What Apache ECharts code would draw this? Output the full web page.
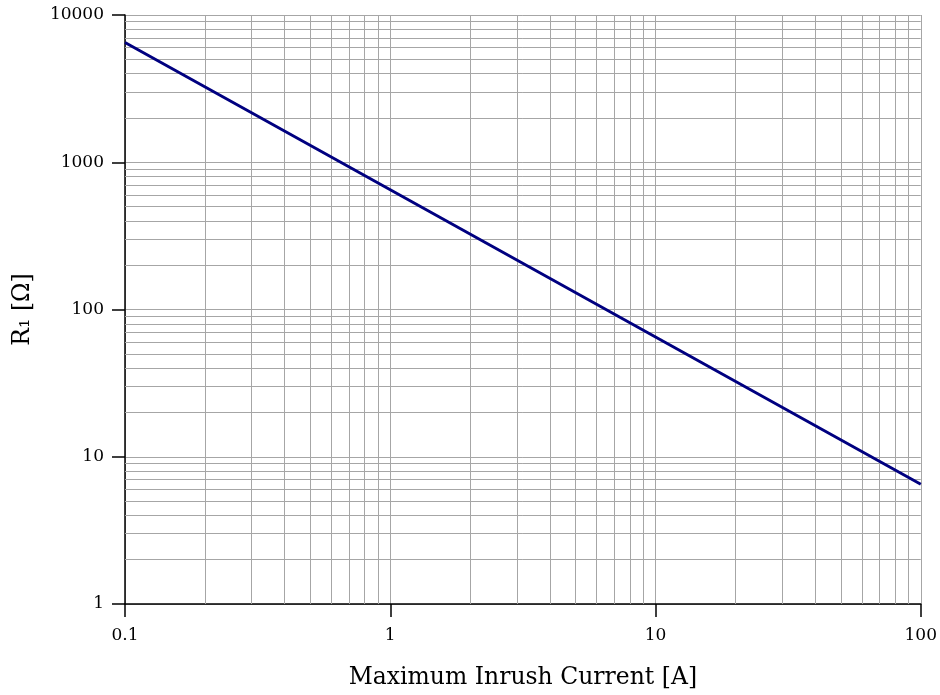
<!DOCTYPE html>
<html>
<head>
<meta charset="utf-8">
<script src="https://cdn.jsdelivr.net/npm/echarts@6/dist/echarts.min.js"></script>
<style>
  html, body { margin: 0; padding: 0; background: #fff; }
  #chart { width: 940px; height: 695px; }
</style>
</head>
<body>
<div id="chart"></div>
<script>
// Inrush limiting resistor vs. maximum inrush current (log-log)
const current = [0.1, 1, 10, 100];          // A
const resistance = [6500, 650, 65, 6.5];    // Ohm

const xMinorGrid = [0.2, 0.3, 0.4, 0.5, 0.6, 0.7, 0.8, 0.9,
                    2, 3, 4, 5, 6, 7, 8, 9,
                    20, 30, 40, 50, 60, 70, 80, 90];
const yMinorGrid = [2, 3, 4, 5, 6, 7, 8, 9,
                    20, 30, 40, 50, 60, 70, 80, 90,
                    200, 300, 400, 500, 600, 700, 800, 900,
                    2000, 3000, 4000, 5000, 6000, 7000, 8000, 9000];

const xTitle = 'Maximum Inrush Current [A]';
const yTitle = 'R\u2081 [\u03A9]';

const FONT = "'DejaVu Serif', 'Liberation Serif', serif";
const GRID_COLOR = '#a6a6a6';

const chart = echarts.init(document.getElementById('chart'), null, { renderer: 'canvas' });

const gridLines = [
  ...xMinorGrid.map(v => ({ xAxis: v })),
  ...yMinorGrid.map(v => ({ yAxis: v }))
];

chart.setOption({
  animation: false,
  backgroundColor: '#ffffff',
  grid: { left: 125, right: 16, top: 15, bottom: 90, containLabel: false },
  xAxis: {
    type: 'log',
    logBase: 10,
    min: 0.1,
    max: 100,
    name: xTitle,
    nameLocation: 'middle',
    nameGap: 62,
    nameTextStyle: { fontFamily: FONT, fontSize: 23.5, color: '#000' },
    axisLine: { show: true, lineStyle: { color: '#000', width: 1.5 } },
    axisTick: { show: true, length: 13, lineStyle: { color: '#000', width: 1.5 } },
    axisLabel: {
      fontFamily: FONT, fontSize: 17, color: '#000', margin: 23,
      formatter: v => (v < 1 ? String(Number(v.toFixed(1))) : String(Math.round(v)))
    },
    splitLine: { show: true, lineStyle: { color: GRID_COLOR, width: 1 } },
    minorTick: { show: false },
    minorSplitLine: { show: false }
  },
  yAxis: {
    type: 'log',
    logBase: 10,
    min: 1,
    max: 10000,
    name: yTitle,
    nameLocation: 'middle',
    nameGap: 90,
    nameRotate: 90,
    nameTextStyle: { fontFamily: FONT, fontSize: 23.5, color: '#000' },
    axisLine: { show: true, lineStyle: { color: '#000', width: 1.5 } },
    axisTick: { show: true, length: 13, lineStyle: { color: '#000', width: 1.5 } },
    axisLabel: {
      fontFamily: FONT, fontSize: 17, color: '#000', margin: 21,
      formatter: v => String(Math.round(v))
    },
    splitLine: { show: true, lineStyle: { color: GRID_COLOR, width: 1 } },
    minorTick: { show: false },
    minorSplitLine: { show: false }
  },
  series: [
    {
      // minor decade grid lines
      type: 'line',
      data: [],
      z: 1,
      silent: true,
      markLine: {
        silent: true,
        symbol: ['none', 'none'],
        label: { show: false },
        emphasis: { disabled: true },
        lineStyle: { type: 'solid', color: GRID_COLOR, width: 1 },
        data: gridLines
      }
    },
    {
      type: 'line',
      z: 5,
      data: current.map((c, i) => [c, resistance[i]]),
      showSymbol: false,
      symbol: 'none',
      lineStyle: { color: '#000080', width: 3 },
      clip: true
    }
  ]
});
</script>
</body>
</html>
